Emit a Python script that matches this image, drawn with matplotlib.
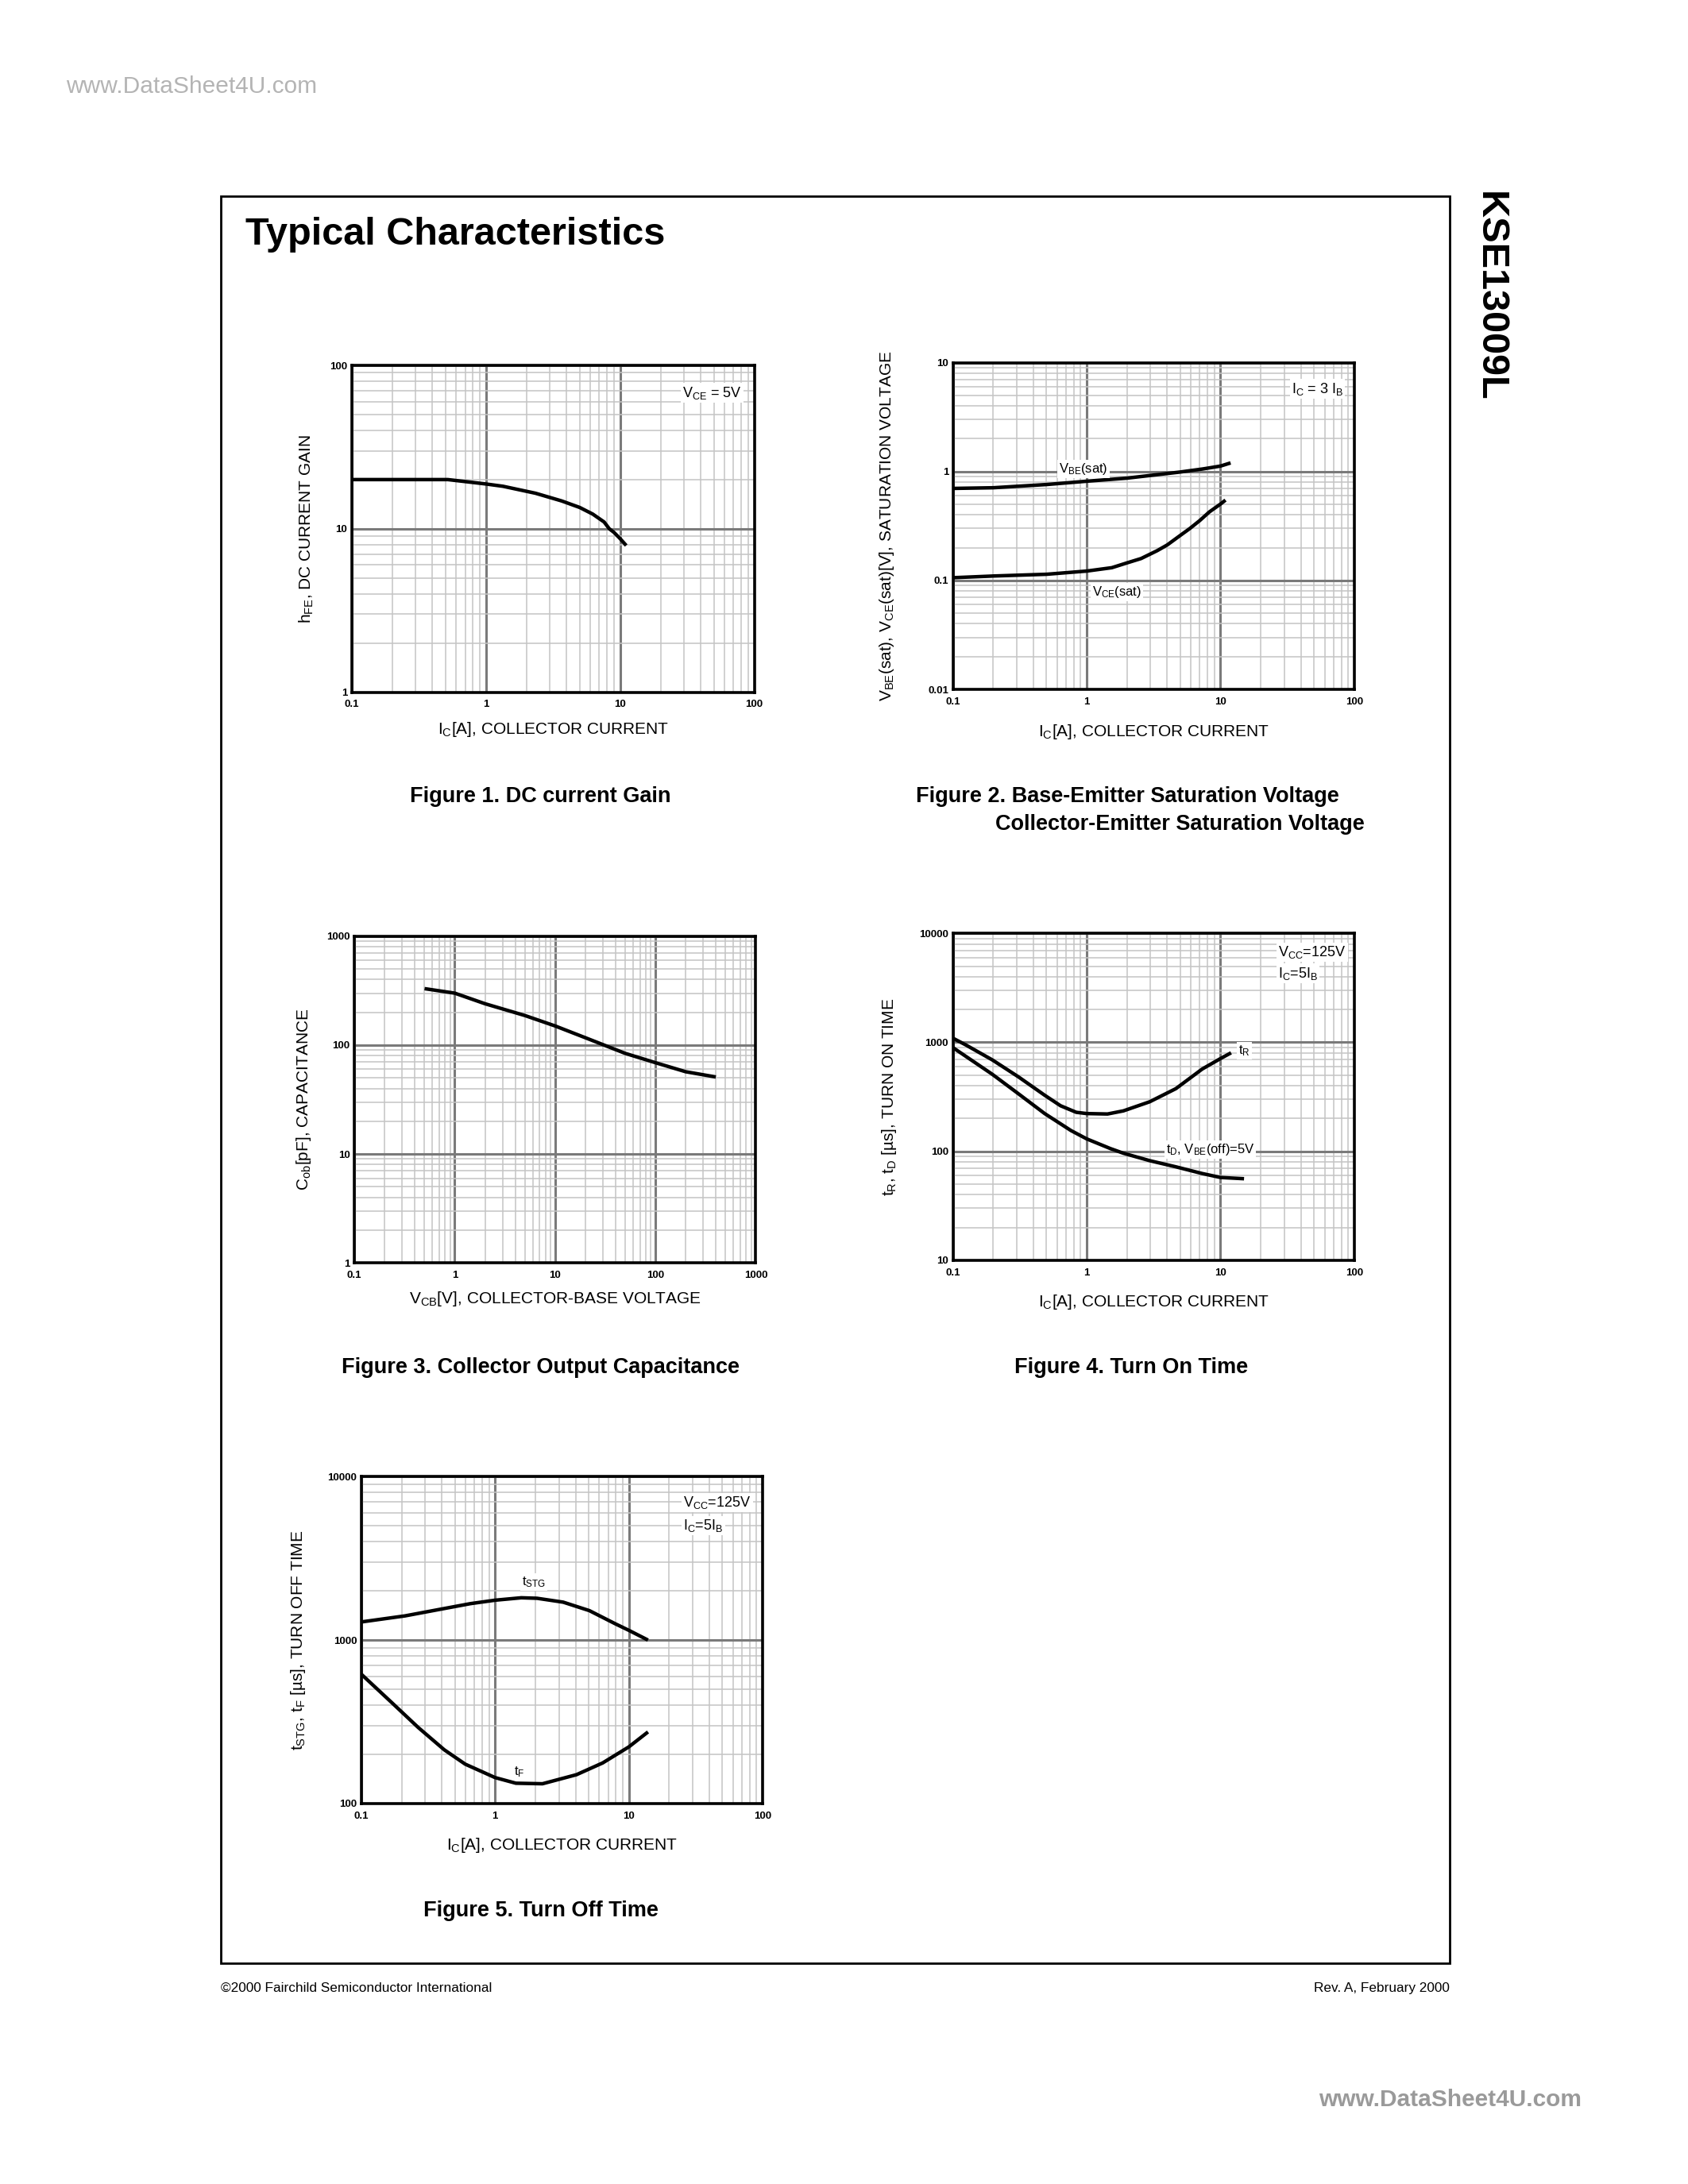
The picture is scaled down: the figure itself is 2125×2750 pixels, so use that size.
import numpy as np
import matplotlib
matplotlib.use("Agg")
import matplotlib.pyplot as plt
from matplotlib import font_manager as fm
from matplotlib.ticker import LogLocator, NullFormatter, FixedLocator, FixedFormatter
from matplotlib.patches import Rectangle

# ---- data ----
# Figure 1: DC current gain
ic_hfe = [0.1, 0.3, 0.52, 0.76, 1, 1.34, 2.34, 3.67, 5, 6.25, 7.6, 8.3, 9.0, 10, 11.1]
hfe = [20, 20, 20, 19.3, 18.8, 18.2, 16.5, 14.8, 13.5, 12.3, 11.0, 10.0, 9.5, 8.7, 7.9]

# Figure 2: saturation voltages
ic_vbe = [0.1, 0.2, 0.5, 1, 2, 5, 7.4, 10, 11.9]
vbe_sat = [0.70, 0.71, 0.76, 0.815, 0.87, 0.99, 1.057, 1.123, 1.2]
ic_vce = [0.1, 0.205, 0.5, 1, 1.54, 2.0, 2.55, 3.37, 4.0, 5.0, 5.9, 7.0, 8.26, 10, 10.9]
vce_sat = [0.106, 0.110, 0.114, 0.122, 0.131, 0.145, 0.159, 0.188, 0.212, 0.259, 0.30,
           0.355, 0.426, 0.503, 0.547]

# Figure 3: collector output capacitance
vcb = [0.5, 1, 2, 5, 10, 20, 50, 100, 200, 400]
cob = [330, 300, 240, 187, 150, 117, 84, 69, 57, 51]

# Figure 4: turn on time
ic_tr = [0.1, 0.125, 0.197, 0.309, 0.485, 0.637, 0.835, 1, 1.43, 1.88, 2.96, 4.64, 7.3, 10, 12.0]
t_r = [1092, 946, 690, 482, 327, 262, 228, 222, 220, 235, 285, 376, 569, 710, 802]
ic_td = [0.1, 0.197, 0.309, 0.485, 0.763, 1, 1.5, 1.88, 2.96, 4.64, 7.3, 10, 15.0]
t_d = [895, 509, 337, 222, 155, 130, 106, 96, 82, 72, 62.5, 57.5, 56]

# Figure 5: turn off time
ic_tstg = [0.1, 0.212, 0.417, 0.654, 1, 1.57, 2.06, 3.23, 5.07, 7.9, 10, 13.9]
t_stg = [1291, 1406, 1560, 1671, 1754, 1815, 1802, 1706, 1514, 1259, 1147, 1000]
ic_tf = [0.1, 0.169, 0.266, 0.417, 0.598, 1, 1.43, 2.26, 4.06, 6.37, 10, 13.9]
t_f = [618, 414, 292, 213, 174, 144, 133, 132, 150, 177, 222, 274]

ticks_ic = [0.1, 1, 10, 100]
labels_ic = ["0.1", "1", "10", "100"]


def has_font(name):
    try:
        fm.findfont(fm.FontProperties(family=name), fallback_to_default=False)
        return True
    except ValueError:
        return False


FONT = "Liberation Sans" if has_font("Liberation Sans") else "DejaVu Sans"
NARROW = "Liberation Sans Narrow" if has_font("Liberation Sans Narrow") else FONT
plt.rcParams["font.family"] = [FONT, "DejaVu Sans"]
plt.rcParams["mathtext.fontset"] = "custom"
plt.rcParams["mathtext.rm"] = FONT
plt.rcParams["mathtext.it"] = FONT
plt.rcParams["mathtext.bf"] = FONT + ":bold"

W, H = 1224.0, 1584.0  # layout measured on a scaled view of the page
fig = plt.figure(figsize=(21.25, 27.5), dpi=100)


def fx(x):
    return x / W


def fy(y):
    return 1 - y / H


def make_axes(l, t, r, b, xlim, ylim, xt, xl, yt, yl):
    ax = fig.add_axes([fx(l), fy(b), (r - l) / W, (b - t) / H])
    ax.set_xscale("log")
    ax.set_yscale("log")
    ax.set_xlim(xlim)
    ax.set_ylim(ylim)
    for axis, t_, l_ in ((ax.xaxis, xt, xl), (ax.yaxis, yt, yl)):
        axis.set_major_locator(FixedLocator(t_))
        axis.set_major_formatter(FixedFormatter(l_))
        axis.set_minor_locator(LogLocator(base=10, subs=range(2, 10)))
        axis.set_minor_formatter(NullFormatter())
    ax.grid(True, which="minor", color="#c4c4c4", lw=1.1)
    ax.grid(True, which="major", color="#7a7a7a", lw=2.2)
    ax.set_axisbelow(True)
    ax.tick_params(which="both", length=0)
    ax.tick_params(axis="x", pad=7)
    ax.tick_params(axis="y", pad=4)
    for lab in ax.get_xticklabels() + ax.get_yticklabels():
        lab.set_fontsize(9.5)
        lab.set_fontweight("bold")
    for s in ax.spines.values():
        s.set_linewidth(2.6)
        s.set_color("black")
    return ax


def labels(ax, xlabel, ylabel, xoff, yoff):
    ax.text(0.5, -xoff, xlabel, transform=ax.transAxes, ha="center", va="center", fontsize=15)
    ax.text(-yoff, 0.5, ylabel, transform=ax.transAxes, ha="center", va="center",
            fontsize=15, rotation=90)


box = dict(facecolor="white", edgecolor="none", pad=1.5)
curve = dict(color="black", lw=3.2, solid_capstyle="butt", solid_joinstyle="round")

# Figure 1
ax1 = make_axes(255, 265, 547, 502, (0.1, 100), (1, 100), ticks_ic, labels_ic,
                [1, 10, 100], ["1", "10", "100"])
ax1.plot(ic_hfe, hfe, **curve)
ax1.text(29, 68, r"V$_\mathrm{CE}$ = 5V", fontsize=13, ha="left", va="center", bbox=box)
labels(ax1, r"I$_\mathrm{C}$[A], COLLECTOR CURRENT", r"h$_\mathrm{FE}$, DC CURRENT GAIN", 0.114, 0.113)

# Figure 2
ax2 = make_axes(691, 263, 982, 500, (0.1, 100), (0.01, 10), ticks_ic, labels_ic,
                [0.01, 0.1, 1, 10], ["0.01", "0.1", "1", "10"])
ax2.plot(ic_vbe, vbe_sat, **curve)
ax2.plot(ic_vce, vce_sat, **curve)
ax2.text(34, 5.75, r"I$_\mathrm{C}$ = 3 I$_\mathrm{B}$", fontsize=13, ha="left", va="center", bbox=box)
ax2.text(0.62, 1.05, r"V$_\mathrm{BE}$(sat)", fontsize=12, ha="left", va="center", bbox=box)
ax2.text(1.1, 0.078, r"V$_\mathrm{CE}$(sat)", fontsize=12, ha="left", va="center", bbox=box)
labels(ax2, r"I$_\mathrm{C}$[A], COLLECTOR CURRENT",
       r"V$_\mathrm{BE}$(sat), V$_\mathrm{CE}$(sat)[V], SATURATION VOLTAGE", 0.13, 0.165)

# Figure 3
ax3 = make_axes(257, 679, 548, 916, (0.1, 1000), (1, 1000), [0.1, 1, 10, 100, 1000],
                ["0.1", "1", "10", "100", "1000"], [1, 10, 100, 1000], ["1", "10", "100", "1000"])
ax3.plot(vcb, cob, **curve)
labels(ax3, r"V$_\mathrm{CB}$[V], COLLECTOR-BASE VOLTAGE", r"C$_\mathrm{ob}$[pF], CAPACITANCE", 0.11, 0.127)

# Figure 4
ax4 = make_axes(691, 677, 982, 914, (0.1, 100), (10, 10000), ticks_ic, labels_ic,
                [10, 100, 1000, 10000], ["10", "100", "1000", "10000"])
ax4.plot(ic_tr, t_r, **curve)
ax4.plot(ic_td, t_d, **curve)
ax4.text(27, 6700, r"V$_\mathrm{CC}$=125V", fontsize=13, ha="left", va="center", bbox=box)
ax4.text(27, 4300, r"I$_\mathrm{C}$=5I$_\mathrm{B}$", fontsize=13, ha="left", va="center", bbox=box)
ax4.text(13.7, 838, r"t$_\mathrm{R}$", fontsize=12, ha="left", va="center", bbox=box)
ax4.text(3.9, 103, r"t$_\mathrm{D}$, V$_\mathrm{BE}$(off)=5V", fontsize=12, ha="left", va="center", bbox=box)
labels(ax4, r"I$_\mathrm{C}$[A], COLLECTOR CURRENT",
       r"t$_\mathrm{R}$, t$_\mathrm{D}$ [µs], TURN ON TIME", 0.127, 0.158)

# Figure 5
ax5 = make_axes(262, 1071, 553, 1308, (0.1, 100), (100, 10000), ticks_ic, labels_ic,
                [100, 1000, 10000], ["100", "1000", "10000"])
ax5.plot(ic_tstg, t_stg, **curve)
ax5.plot(ic_tf, t_f, **curve)
ax5.text(25.5, 6950, r"V$_\mathrm{CC}$=125V", fontsize=13, ha="left", va="center", bbox=box)
ax5.text(25.5, 5000, r"I$_\mathrm{C}$=5I$_\mathrm{B}$", fontsize=13, ha="left", va="center", bbox=box)
ax5.text(1.58, 2275, r"t$_\mathrm{STG}$", fontsize=12, ha="left", va="center", bbox=box)
ax5.text(1.38, 156, r"t$_\mathrm{F}$", fontsize=12, ha="left", va="center", bbox=box)
labels(ax5, r"I$_\mathrm{C}$[A], COLLECTOR CURRENT",
       r"t$_\mathrm{STG}$, t$_\mathrm{F}$ [µs], TURN OFF TIME", 0.127, 0.158)

# captions
cap = dict(fontsize=19.5, fontweight="bold", va="center")
fig.text(fx(392), fy(578), "Figure 1. DC current Gain", ha="center", **cap)
fig.text(fx(664), fy(578), "Figure 2. Base-Emitter Saturation Voltage", ha="left", **cap)
fig.text(fx(722), fy(598), "Collector-Emitter Saturation Voltage", ha="left", **cap)
fig.text(fx(392), fy(992), "Figure 3. Collector Output Capacitance", ha="center", **cap)
fig.text(fx(820), fy(992), "Figure 4. Turn On Time", ha="center", **cap)
fig.text(fx(392), fy(1386), "Figure 5. Turn Off Time", ha="center", **cap)

# page frame and headers
fig.patches.append(Rectangle((fx(160), fy(1424)), (1051 - 160) / W, (1424 - 142) / H,
                             transform=fig.transFigure, fill=False, lw=2.0, ec="black"))
fig.text(fx(178), fy(170), "Typical Characteristics", fontsize=35, fontweight="bold",
         ha="left", va="center")
fig.text(fx(1080), fy(215), "KSE13009L", fontsize=35, fontweight="bold", rotation=270,
         ha="center", va="center")
fig.text(fx(160), fy(1442), "©2000 Fairchild Semiconductor International", fontsize=12.4,
         family=NARROW, ha="left", va="center")
fig.text(fx(1051), fy(1442), "Rev. A, February 2000", fontsize=12.4, family=NARROW,
         ha="right", va="center")
fig.text(fx(48), fy(63), "www.DataSheet4U.com", fontsize=21.5, color="#b4b4b4",
         family=NARROW, ha="left", va="center")
fig.text(fx(1147), fy(1523), "www.DataSheet4U.com", fontsize=21.5, color="#9a9a9a",
         fontweight="bold", family=NARROW, ha="right", va="center")

fig.savefig("out.png", dpi=100, facecolor="white")
